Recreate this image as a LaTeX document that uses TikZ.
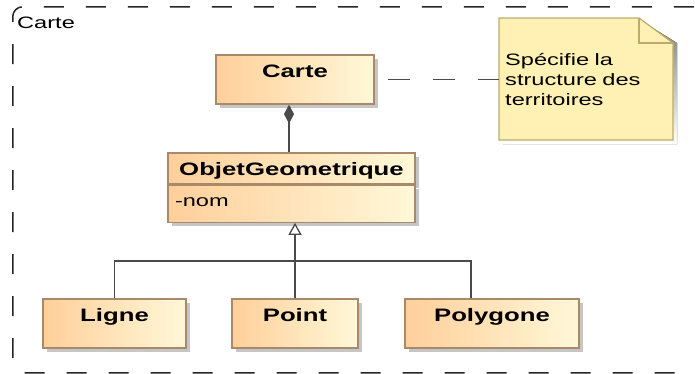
\documentclass[tikz,border=0pt]{standalone}
\usepackage{fontspec}
\setmainfont{Liberation Sans}[FakeStretch=1.43]
\usetikzlibrary{arrows.meta,shadows,positioning}
\definecolor{boxl}{HTML}{FFCF9A}
\definecolor{boxr}{HTML}{FFF8D8}
\definecolor{boxline}{HTML}{A8896A}
\definecolor{notefill}{HTML}{FFF1B4}
\definecolor{noteline}{HTML}{BBAC6C}
\definecolor{shade}{HTML}{C6C6C6}
\definecolor{linkgray}{HTML}{4A4A4A}

\begin{document}
\begin{tikzpicture}[x=1pt,y=-1pt,
		umlbox/.style={draw=boxline,line width=1.2pt,left color=boxl,right color=boxr,
			drop shadow={shadow xshift=4pt,shadow yshift=-4pt,fill=shade,opacity=1},
			font=\bfseries\fontsize{18}{20}\selectfont,inner ysep=0pt,
			text height=22pt,text depth=27pt,minimum height=49pt},
		attr/.style={umlbox,font=\fontsize{16.5}{20}\selectfont,align=left,inner xsep=7pt},
		link/.style={draw=linkgray,line width=1.3pt},
		dashline/.style={link,dash pattern=on 22pt off 23pt,dash phase=32pt},
		frame/.style={draw=black!85,line width=1.5pt,dash pattern=on 20pt off 22pt,rounded corners=10pt},
		txt/.style={font=\fontsize{16.5}{20}\selectfont}]
		\useasboundingbox (0,0) rectangle (695,373);
		\node[frame,minimum width=691,minimum height=366,anchor=north west] (frame) at (12,6) {};
		\node[txt,anchor=base west,inner sep=0pt] (framelabel) at ([shift={(5,22)}]frame.north west) {Carte};
		\node[umlbox,minimum width=158] (Carte) at (295,79.5) {Carte};
		\node[umlbox,text depth=9pt,minimum height=31pt,minimum width=247] (og) at (291.5,168.5) {ObjetGeometrique};
		\node[attr,below=0pt of og,text height=21pt,text depth=16pt,minimum height=37pt,text width=233pt] (ogattr) {-nom};
		\foreach \name/\x/\w in {Ligne/114.5/143,Point/295/126,Polygone/492/174}
			\node[umlbox,minimum width=\w] (\name) at (\x,323.5) {\name};
		\coordinate (nw) at (499,18);
		\coordinate (se) at (673,140);
		\fill[shade] ([shift={(4,4)}]nw) -- ([shift={(-30,4)}]nw -| se) -- ([shift={(4,25)}]nw -| se) -- ([shift={(4,4)}]se) -- ([shift={(4,4)}]nw |- se) -- cycle;
		\draw[noteline,fill=notefill,line width=1.2pt] (nw) -- ([xshift=-34pt]nw -| se) -- ([yshift=-25pt]nw -| se) -- (se) -- (nw |- se) -- cycle;
		\draw[noteline,line width=1.2pt] ([xshift=-34pt]nw -| se) -- ([xshift=-34pt,yshift=-25pt]nw -| se) -- ([yshift=-25pt]nw -| se);
		\node[txt,anchor=north west,minimum width=174,minimum height=122,text width=162pt,inner xsep=6pt,align=left] (note) at (nw) {Spécifie la\\structure des\\territoires};
		\draw[dashline] (Carte.east) -- (Carte.east -| note.west);
		\coordinate (comp) at ([xshift=-6pt]Carte.south);
		\draw[link,{Diamond[length=19pt,width=10pt,fill=linkgray]}-] (comp) -- (comp |- og.north);
		\coordinate (bar) at (295,261);
		\draw[link] (Ligne.north) |- (bar) -| ([xshift=-21pt]Polygone.north);
		\draw[link,-{Triangle[open,length=12pt,width=13pt,fill=white]}] (Point.north) -- (Point.north |- ogattr.south);
\end{tikzpicture}
\end{document}
